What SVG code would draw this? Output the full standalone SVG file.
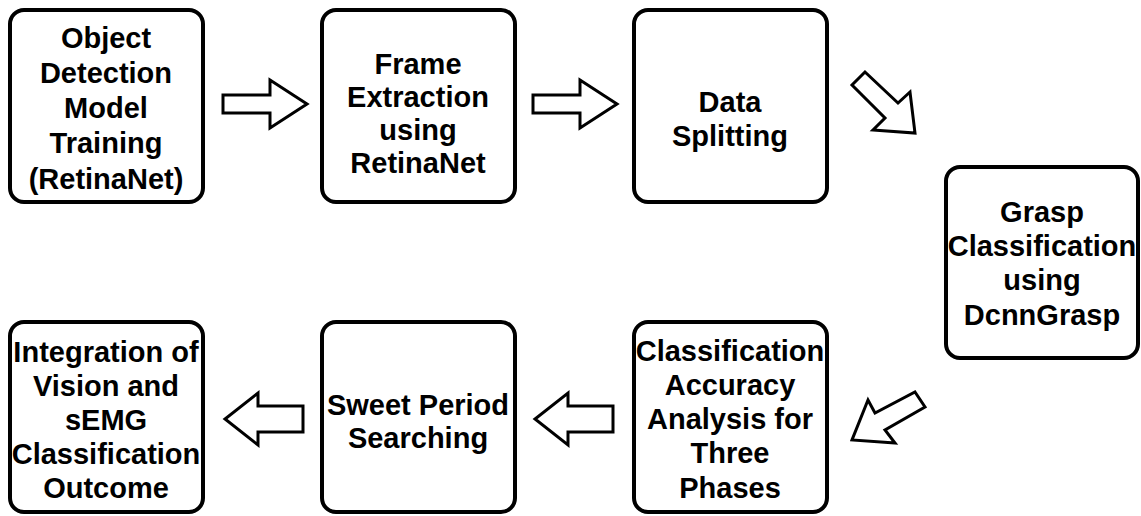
<svg xmlns="http://www.w3.org/2000/svg" width="1141" height="516" viewBox="0 0 1141 516">
<style>
.box{fill:#fff;stroke:#000;stroke-width:4}
.t{font-family:"Liberation Sans",Arial,sans-serif;font-weight:bold;font-size:29px;fill:#000;text-anchor:middle}
.arr{fill:#fff;stroke:#000;stroke-width:3;stroke-linejoin:miter}
</style>
<rect width="1141" height="516" fill="#fff"/>
<g id="n1">
<rect class="box" x="10" y="10" width="193" height="192" rx="14"/>
<text class="t"><tspan x="106" y="48">Object</tspan><tspan x="106" y="83">Detection</tspan><tspan x="106" y="118">Model</tspan><tspan x="106" y="153">Training</tspan><tspan x="106" y="189">(RetinaNet)</tspan></text>
</g>
<g id="n2">
<rect class="box" x="322" y="10" width="193" height="192" rx="14"/>
<text class="t"><tspan x="418" y="74">Frame</tspan><tspan x="418" y="107">Extraction</tspan><tspan x="418" y="140">using</tspan><tspan x="418" y="173">RetinaNet</tspan></text>
</g>
<g id="n3">
<rect class="box" x="634" y="10" width="193" height="192" rx="14"/>
<text class="t"><tspan x="730" y="112">Data</tspan><tspan x="730" y="146">Splitting</tspan></text>
</g>
<g id="n4">
<rect class="box" x="946" y="167" width="192" height="191" rx="14"/>
<text class="t"><tspan x="1042" y="222">Grasp</tspan><tspan x="1042" y="256">Classification</tspan><tspan x="1042" y="290">using</tspan><tspan x="1042" y="325">DcnnGrasp</tspan></text>
</g>
<g id="n5">
<rect class="box" x="634" y="322" width="193" height="190" rx="14"/>
<text class="t"><tspan x="730" y="361">Classification</tspan><tspan x="730" y="395">Accuracy</tspan><tspan x="730" y="429">Analysis for</tspan><tspan x="730" y="463">Three</tspan><tspan x="730" y="498">Phases</tspan></text>
</g>
<g id="n6">
<rect class="box" x="322" y="322" width="193" height="190" rx="14"/>
<text class="t"><tspan x="418" y="415">Sweet Period</tspan><tspan x="418" y="448">Searching</tspan></text>
</g>
<g id="n7">
<rect class="box" x="10" y="322" width="193" height="190" rx="14"/>
<text class="t"><tspan x="106" y="362">Integration of</tspan><tspan x="106" y="396">Vision and</tspan><tspan x="106" y="430">sEMG</tspan><tspan x="106" y="464">Classification</tspan><tspan x="106" y="498">Outcome</tspan></text>
</g>
<g id="connectors">
<polygon class="arr" points="223,95 270,95 270,80 307,104 270,128 270,113 223,113"/>
<polygon class="arr" points="533,95 580,95 580,80 617,104 580,128 580,113 533,113"/>
<polygon class="arr" points="865,72 852,85 885,118 873,130 915,133 910,92 898,103"/>
<polygon class="arr" points="915,392 925,407 885,430 895,443 852,440 868,400 875,413"/>
<polygon class="arr" points="613,406 568,406 568,393 535,419 568,445 568,432 613,432"/>
<polygon class="arr" points="303,406 258,406 258,393 225,419 258,445 258,432 303,432"/>
</g>
</svg>
